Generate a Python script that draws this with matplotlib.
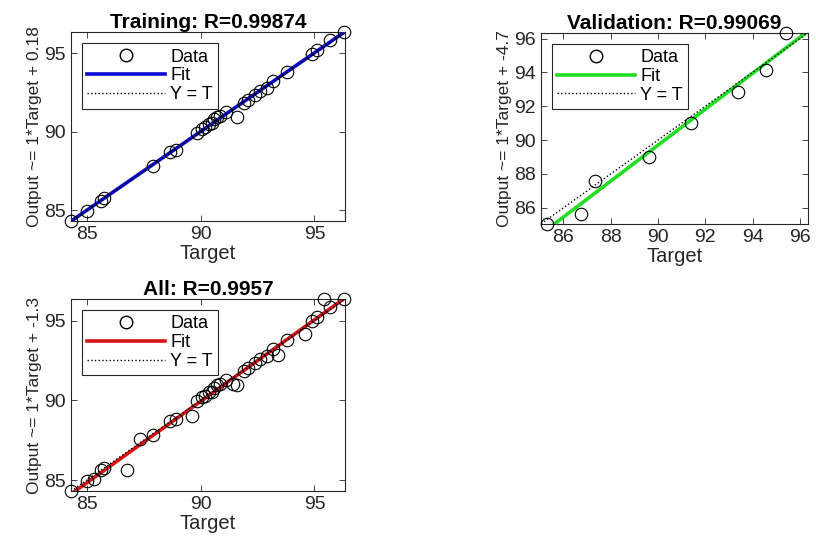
import matplotlib
matplotlib.use("Agg")
import matplotlib.pyplot as plt
from matplotlib.lines import Line2D
from matplotlib.ticker import MultipleLocator
import numpy as np

plt.rcParams['font.family'] = ['Liberation Sans', 'DejaVu Sans']

# training set (target, output)
train_t = [84.3, 85.0, 85.6, 85.75, 87.9, 88.65, 88.9, 89.85, 90.05, 90.2, 90.35, 90.5, 90.6,
           90.7, 90.85, 91.1, 91.6, 91.9, 92.1, 92.4, 92.6, 92.9, 93.2, 93.8, 94.9, 95.1,
           95.7, 96.3]
train_y = [84.3, 84.95, 85.6, 85.75, 87.8, 88.7, 88.85, 89.95, 90.2, 90.3, 90.5, 90.55, 90.8,
           90.95, 91.0, 91.25, 90.95, 91.85, 92.05, 92.35, 92.6, 92.8, 93.25, 93.8, 94.95, 95.2,
           95.85, 96.35]

# validation set
val_t = [85.3, 86.75, 87.34, 89.62, 91.41, 93.39, 94.58, 95.4]
val_y = [85.05, 85.63, 87.56, 89.0, 91.0, 92.86, 94.17, 96.34]

titles = ['Training: R=0.99874', 'Validation: R=0.99069', 'All: R=0.9957']
ylabels = ['Output ~= 1*Target + 0.18', 'Output ~= 1*Target + -4.7', 'Output ~= 1*Target + -1.3']
fit_colors = ['#0a0ad0', '#22dd22', '#d81414']
tick_steps = [5, 2, 5]


def regression_panel(ax, t, y, title, ylabel, color, step):
    t = np.array(t)
    y = np.array(y)
    lo = min(t.min(), y.min())
    hi = max(t.max(), y.max())
    a, b = np.polyfit(t, y, 1)
    xx = np.array([lo, hi])

    ax.plot(xx, a * xx + b, color=color, lw=2.6, zorder=2)
    ax.plot(xx, xx, color='black', ls=':', lw=1.0, zorder=2)
    ax.plot(t, y, 'o', mfc='none', mec='black', mew=0.8, ms=9, zorder=3, clip_on=False)

    ax.set_xlim(lo, hi)
    ax.set_ylim(lo, hi)
    ax.xaxis.set_major_locator(MultipleLocator(step))
    ax.yaxis.set_major_locator(MultipleLocator(step))
    ax.tick_params(direction='in', top=True, right=True, labelsize=14,
                   colors='#262626', length=4, width=0.6)
    for s in ax.spines.values():
        s.set_color('#262626')
        s.set_linewidth(0.8)

    ax.set_title(title, fontsize=15, fontweight='bold', pad=3)
    ax.set_xlabel('Target', fontsize=14.5, color='#262626', labelpad=1)
    ax.set_ylabel(ylabel, fontsize=12.5, color='#262626', labelpad=2)

    handles = [Line2D([], [], ls='none', marker='o', mfc='none', mec='black', ms=9),
               Line2D([], [], color=color, lw=2.6),
               Line2D([], [], color='black', ls=':', lw=1.0)]
    leg = ax.legend(handles, ['Data', 'Fit', 'Y = T'], loc='upper left', fontsize=13,
                    handlelength=4.3, handletextpad=0.3, labelspacing=0.1,
                    borderpad=0.3, borderaxespad=0.6, fancybox=False, framealpha=1)
    leg.get_frame().set_edgecolor('#262626')
    leg.get_frame().set_linewidth(0.8)


fig = plt.figure(figsize=(8.16, 5.38), dpi=100)
ax1 = fig.add_axes([0.087, 0.589, 0.336, 0.351])
ax2 = fig.add_axes([0.663, 0.584, 0.327, 0.355])
ax3 = fig.add_axes([0.087, 0.087, 0.336, 0.357])

all_t = train_t + val_t
all_y = train_y + val_y

regression_panel(ax1, train_t, train_y, titles[0], ylabels[0], fit_colors[0], tick_steps[0])
regression_panel(ax2, val_t, val_y, titles[1], ylabels[1], fit_colors[1], tick_steps[1])
regression_panel(ax3, all_t, all_y, titles[2], ylabels[2], fit_colors[2], tick_steps[2])

fig.savefig('out.png', dpi=100)
